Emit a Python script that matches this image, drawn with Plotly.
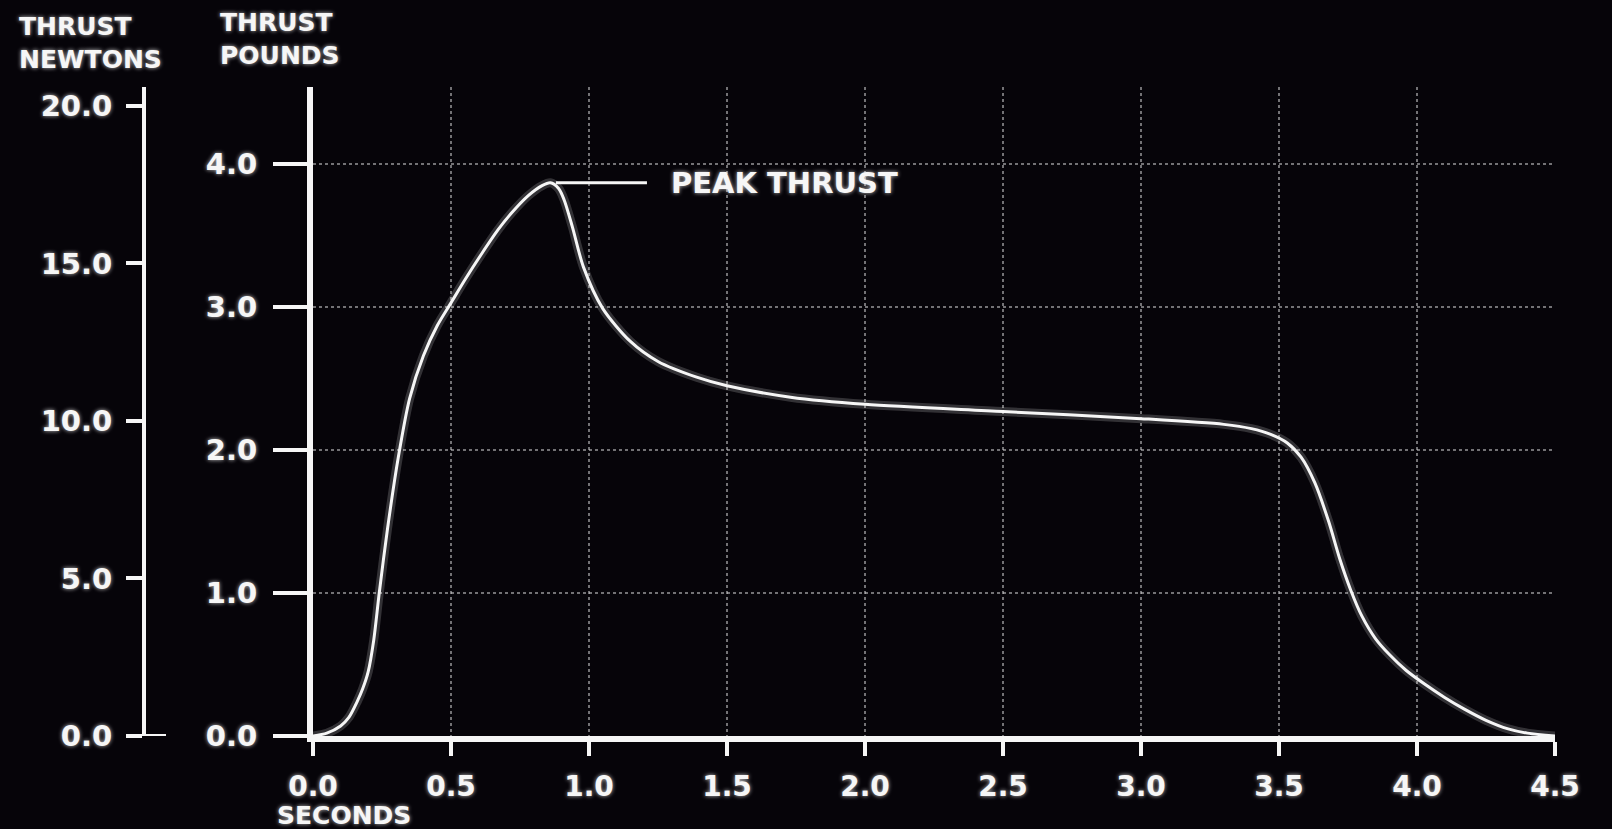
import plotly.graph_objects as go

# ---- data ----
time_s = [0.0, 0.05, 0.10, 0.13, 0.16, 0.18, 0.20, 0.22, 0.24, 0.27, 0.31, 0.35, 0.40,
          0.45, 0.50, 0.55, 0.61, 0.67, 0.72, 0.78, 0.83, 0.86, 0.89, 0.91, 0.94,
          0.98, 1.05, 1.15, 1.25, 1.39, 1.50, 1.73, 2.00, 2.50, 3.00, 3.30, 3.40,
          3.47, 3.53, 3.58, 3.63, 3.68, 3.72, 3.76, 3.80, 3.85, 3.90, 3.96, 4.03,
          4.10, 4.17, 4.25, 4.33, 4.40, 4.50]
thrust_lb = [0.0, 0.02, 0.07, 0.13, 0.24, 0.33, 0.45, 0.67, 1.00, 1.45, 1.96, 2.36, 2.66,
             2.87, 3.03, 3.19, 3.37, 3.54, 3.66, 3.78, 3.85, 3.87, 3.83, 3.75, 3.56,
             3.28, 2.99, 2.76, 2.62, 2.51, 2.45, 2.37, 2.32, 2.27, 2.22, 2.18, 2.15,
             2.11, 2.05, 1.95, 1.77, 1.50, 1.24, 1.02, 0.84, 0.68, 0.57, 0.46, 0.36,
             0.27, 0.19, 0.11, 0.05, 0.02, 0.0]
LBF_TO_N = 4.448
thrust_n = [v * LBF_TO_N for v in thrust_lb]

x_ticks = [0.0, 0.5, 1.0, 1.5, 2.0, 2.5, 3.0, 3.5, 4.0, 4.5]
x_tick_labels = ["0.0", "0.5", "1.0", "1.5", "2.0", "2.5", "3.0", "3.5", "4.0", "4.5"]
lb_ticks = [0, 1, 2, 3, 4]
lb_tick_labels = ["0.0", "1.0", "2.0", "3.0", "4.0"]
n_ticks = [0, 5, 10, 15, 20]
n_tick_labels = ["0.0", "5.0", "10.0", "15.0", "20.0"]

# ---- layout helpers ----
W, H = 1612, 829
TOP, BOTTOM = 87, 736
def px(x):
    return x / W
def py(y):
    return (BOTTOM - y) / (BOTTOM - TOP)

FONT = "DejaVu Sans"
WHITE = "#f6f6f6"
GLOW = "0px 0px 4px rgba(255,255,255,0.75)"
GRID = "rgba(205,205,205,0.55)"
BG = "#060409"

def tfont(size):
    return dict(family=FONT, size=size, color=WHITE, weight="bold", shadow=GLOW)

fig = go.Figure()
# glow under the curve
fig.add_trace(go.Scatter(x=time_s, y=thrust_lb, mode="lines",
                         line=dict(color="rgba(255,255,255,0.18)", width=9,
                                   shape="spline", smoothing=0.8),
                         hoverinfo="skip", showlegend=False))
fig.add_trace(go.Scatter(x=time_s, y=thrust_lb, mode="lines",
                         line=dict(color=WHITE, width=3, shape="spline", smoothing=0.8),
                         name="Thrust", showlegend=False))
# same curve in newtons on the secondary (newton) axis, invisible
fig.add_trace(go.Scatter(x=time_s, y=thrust_n, mode="lines", yaxis="y2",
                         line=dict(color="rgba(0,0,0,0)", width=1),
                         hoverinfo="skip", showlegend=False))

peak_i = thrust_lb.index(max(thrust_lb))
peak_t, peak_v = time_s[peak_i], thrust_lb[peak_i]

fig.update_layout(
    width=W, height=H,
    margin=dict(l=0, r=0, t=TOP, b=H - BOTTOM, autoexpand=False),
    paper_bgcolor=BG, plot_bgcolor=BG,
    showlegend=False,
    xaxis=dict(domain=[px(313), px(1555)], range=[0, 4.5], anchor="y",
               tickvals=x_ticks, ticktext=x_tick_labels,
               showgrid=True, gridcolor=GRID, griddash="dot", gridwidth=2,
               showline=True, linecolor=WHITE, linewidth=6,
               ticks="outside", ticklen=14, tickwidth=4, tickcolor=WHITE,
               ticklabelstandoff=6, automargin=False,
               tickfont=tfont(28), zeroline=False, fixedrange=True),
    yaxis=dict(range=[0, 4.54], domain=[0, 1],
               tickvals=lb_ticks, ticktext=lb_tick_labels,
               showgrid=True, gridcolor=GRID, griddash="dot", gridwidth=2,
               showline=True, linecolor=WHITE, linewidth=6,
               ticks="outside", ticklen=34, tickwidth=4, tickcolor=WHITE,
               ticklabelstandoff=10, automargin=False,
               tickfont=tfont(29), zeroline=False, fixedrange=True),
    yaxis2=dict(range=[0, 20.6], overlaying="y", anchor="free",
                position=px(144), side="left",
                tickvals=n_ticks, ticktext=n_tick_labels,
                showgrid=False, zeroline=False,
                showline=True, linecolor=WHITE, linewidth=4,
                ticks="outside", ticklen=16, tickwidth=4, tickcolor=WHITE,
                ticklabelstandoff=8, automargin=False,
                tickfont=tfont(29), fixedrange=True),
)

# right-hand half of the newton zero tick (the axis foot)
fig.add_shape(type="line", xref="paper", yref="y2",
              x0=px(144), x1=px(166), y0=0, y1=0,
              line=dict(color=WHITE, width=4))

# peak thrust leader line
fig.add_shape(type="line", xref="x", yref="y",
              x0=peak_t + 0.02, x1=peak_t + 0.35, y0=peak_v, y1=peak_v,
              line=dict(color=WHITE, width=3))

annotations = [
    dict(text="PEAK THRUST", x=peak_t + 0.43, y=peak_v, xref="x", yref="y",
         xanchor="left", yanchor="middle", showarrow=False, font=tfont(29)),
    dict(text="THRUST<br>NEWTONS", x=px(17), y=py(43), xref="paper", yref="paper",
         xanchor="left", yanchor="middle", align="left", showarrow=False,
         font=tfont(25)),
    dict(text="THRUST<br>POUNDS", x=px(218), y=py(39), xref="paper", yref="paper",
         xanchor="left", yanchor="middle", align="left", showarrow=False,
         font=tfont(25)),
    dict(text="SECONDS", x=px(275), y=py(815), xref="paper", yref="paper",
         xanchor="left", yanchor="middle", showarrow=False, font=tfont(25)),
]
fig.update_layout(annotations=annotations)

fig.write_html("out.html")
